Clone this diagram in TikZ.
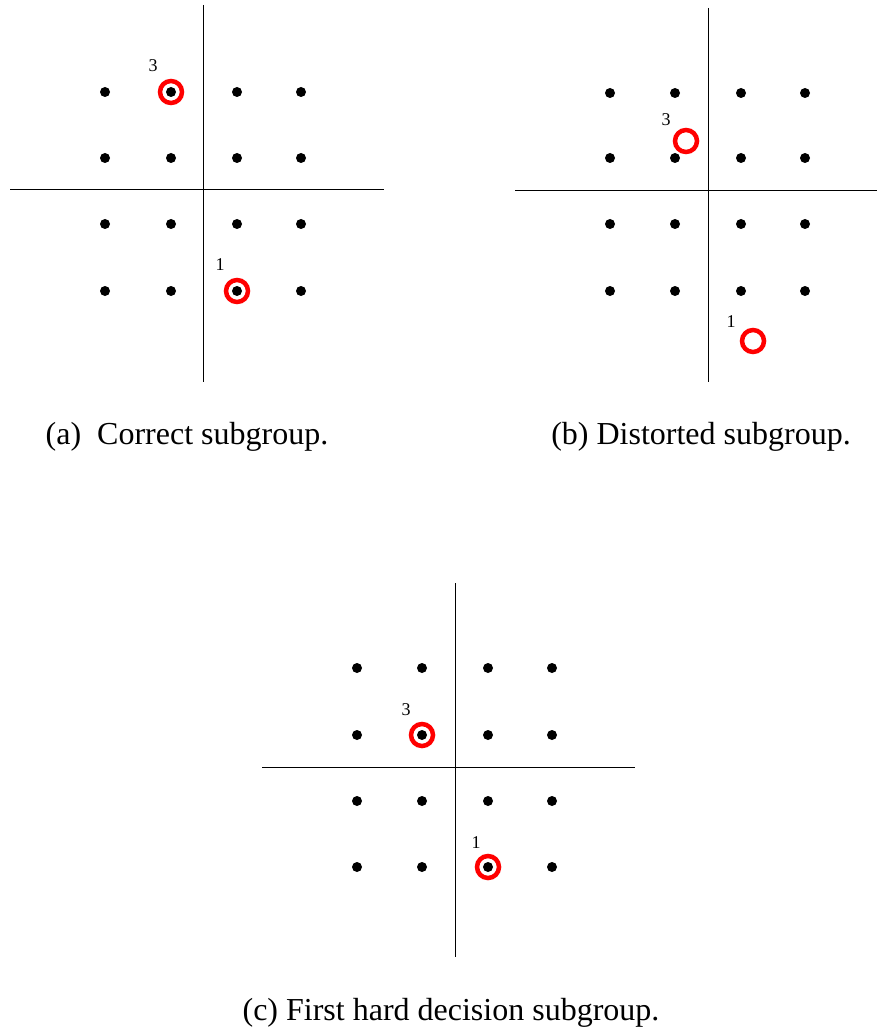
\documentclass[tikz,border=0pt]{standalone}
\usepackage{fontspec}
\setmainfont{Liberation Serif}
\begin{document}
\begin{tikzpicture}[x=1pt,y=-1pt,
  axis/.style={line width=1pt},
  dot/.style={circle,fill=black,inner sep=0pt,minimum size=10pt},
  ring/.style={circle,draw=red,line width=4.5pt,inner sep=0pt,minimum size=22pt},
  lbl/.style={font=\fontsize{18}{18}\selectfont,inner sep=0pt},
  captext/.style={font=\fontsize{32}{32}\selectfont,inner sep=0pt}]
\useasboundingbox (0,0) rectangle (877,1032);
% panel a
\coordinate (at) at (203,5); \coordinate (ab) at (203,382);
\coordinate (al) at (10,190); \coordinate (ar) at (384,190);
\draw[axis] (at) -- (ab); \draw[axis] (al) -- (ar);
\foreach \x [count=\i] in {105,171,237,301}
  \foreach \y [count=\j] in {92,158,224,291}
    \node[dot] (a\i\j) at (\x,\y) {};
\node[ring] (ar3) at (171,92) {};
\node[ring] (ar1) at (237,291) {};
\node[lbl] (al3) at (153,66) {3};
\node[lbl] (al1) at (220,265) {1};
\node[captext] (acap) at (187,437) {(a)\ \ Correct subgroup.};
% panel b
\coordinate (bt) at (708,8); \coordinate (bb) at (708,382);
\coordinate (bl) at (515,191); \coordinate (br) at (877,191);
\draw[axis] (bt) -- (bb); \draw[axis] (bl) -- (br);
\foreach \x [count=\i] in {610,675,741,805}
  \foreach \y [count=\j] in {93,158,224,291}
    \node[dot] (b\i\j) at (\x,\y) {};
\node[ring] (br3) at (686,141) {};
\node[ring] (br1) at (753,341) {};
\node[lbl] (bl3) at (666,120) {3};
\node[lbl] (bl1) at (731,322) {1};
\node[captext] (bcap) at (701,437) {(b) Distorted subgroup.};
% panel c
\coordinate (ct) at (455,583); \coordinate (cb) at (455,957);
\coordinate (cl) at (262,767); \coordinate (cr) at (635,767);
\draw[axis] (ct) -- (cb); \draw[axis] (cl) -- (cr);
\foreach \x [count=\i] in {357,422,488,552}
  \foreach \y [count=\j] in {668,735,801,867}
    \node[dot] (c\i\j) at (\x,\y) {};
\node[ring] (cr3) at (422,735) {};
\node[ring] (cr1) at (488,867) {};
\node[lbl] (cl3) at (406,710) {3};
\node[lbl] (cl1) at (476,843) {1};
\node[captext] (ccap) at (451,1013) {(c) First hard decision subgroup.};
\end{tikzpicture}
\end{document}
